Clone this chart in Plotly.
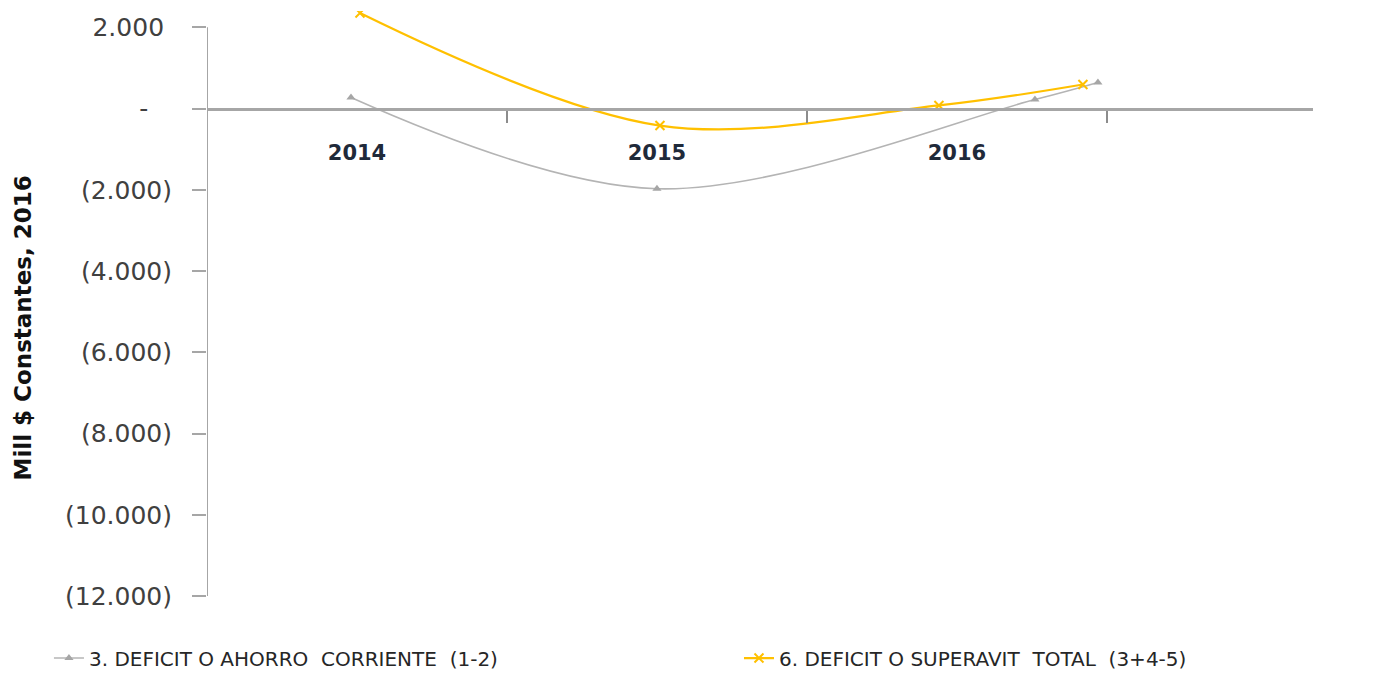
import plotly.graph_objects as go

# Category labels on the horizontal axis
years = [2014, 2015, 2016]
year_labels = ["2014", "2015", "2016"]

# 3. DEFICIT O AHORRO CORRIENTE (1-2), Mill $ constantes 2016
ahorro_x = [2013.98, 2015.0, 2016.26, 2016.47]
ahorro = [270, -1975, 220, 640]

# 6. DEFICIT O SUPERAVIT TOTAL (3+4-5), Mill $ constantes 2016
superavit_x = [2014.01, 2015.01, 2015.94, 2016.42]
superavit = [2350, -420, 75, 590]

# Value axis ticks in accounting style
y_ticks = [2000, 0, -2000, -4000, -6000, -8000, -10000, -12000]
y_labels = ["2.000\u00a0", "-\u00a0\u00a0\u00a0", "(2.000)", "(4.000)", "(6.000)",
            "(8.000)", "(10.000)", "(12.000)"]

GRAY = "#b4b4b4"
YELLOW = "#ffc000"
AXIS = "#a6a6a6"

fig = go.Figure()

fig.add_trace(go.Scatter(
    x=ahorro_x, y=ahorro, mode="lines+markers",
    name="3. DEFICIT O AHORRO  CORRIENTE  (1-2)",
    line=dict(color=GRAY, width=1.6, shape="spline", smoothing=1),
    marker=dict(symbol="triangle-up", size=8, color="#a6a6a6"),
    legend="legend",
))

fig.add_trace(go.Scatter(
    x=superavit_x, y=superavit, mode="lines+markers",
    name="6. DEFICIT O SUPERAVIT  TOTAL  (3+4-5)",
    line=dict(color=YELLOW, width=2.2, shape="spline", smoothing=1),
    marker=dict(symbol="x-thin", size=9, color=YELLOW,
                line=dict(color=YELLOW, width=2)),
    legend="legend2",
))

y_min, y_max = -12000, 2400
zero_pos = (0 - y_min) / (y_max - y_min)

legend_font = dict(family="DejaVu Sans", size=20, color="#262626")

fig.update_layout(
    width=1378, height=677,
    margin=dict(l=207, r=65, t=11, b=81, autoexpand=False),
    paper_bgcolor="white", plot_bgcolor="white",
    showlegend=True,
    legend=dict(
        orientation="h", x=-0.1429, y=0.028, xanchor="left", yanchor="middle",
        yref="container", font=legend_font, bgcolor="rgba(0,0,0,0)",
    ),
    legend2=dict(
        orientation="h", x=0.481, y=0.028, xanchor="left", yanchor="middle",
        yref="container", font=legend_font, bgcolor="rgba(0,0,0,0)",
    ),
    xaxis=dict(
        range=[2013.5, 2017.187],
        tickvals=years, ticktext=year_labels,
        ticks="", showgrid=False, zeroline=False,
        showline=True, linecolor=AXIS, linewidth=3,
        anchor="free", position=zero_pos,
        ticklabelstandoff=24,
        tickfont=dict(family="DejaVu Sans", size=21, color="#1f2a3a", weight="bold"),
        minor=dict(tickvals=[2014.5, 2015.5, 2016.5], ticks="outside",
                   ticklen=12, tickwidth=2, tickcolor="#8c8c8c"),
    ),
    yaxis=dict(
        range=[y_min, y_max],
        tickvals=y_ticks, ticktext=y_labels,
        ticks="outside", ticklen=14, tickwidth=2, tickcolor=AXIS,
        showgrid=False, zeroline=False, showline=False,
        ticklabelstandoff=15,
        tickfont=dict(family="DejaVu Sans", size=25, color="#404040"),
    ),
    shapes=[dict(type="line", xref="x", yref="y", x0=2013.5, x1=2013.5,
                 y0=y_min, y1=2000, line=dict(color=AXIS, width=2), layer="below")],
    annotations=[dict(
        text="<b>Mill $ Constantes, 2016</b>", textangle=-90,
        xref="paper", yref="paper", x=-0.166, y=0.458,
        xanchor="center", yanchor="middle", showarrow=False,
        font=dict(family="DejaVu Sans", size=23, color="#111111"),
    )],
)

fig.write_html("out.html")
